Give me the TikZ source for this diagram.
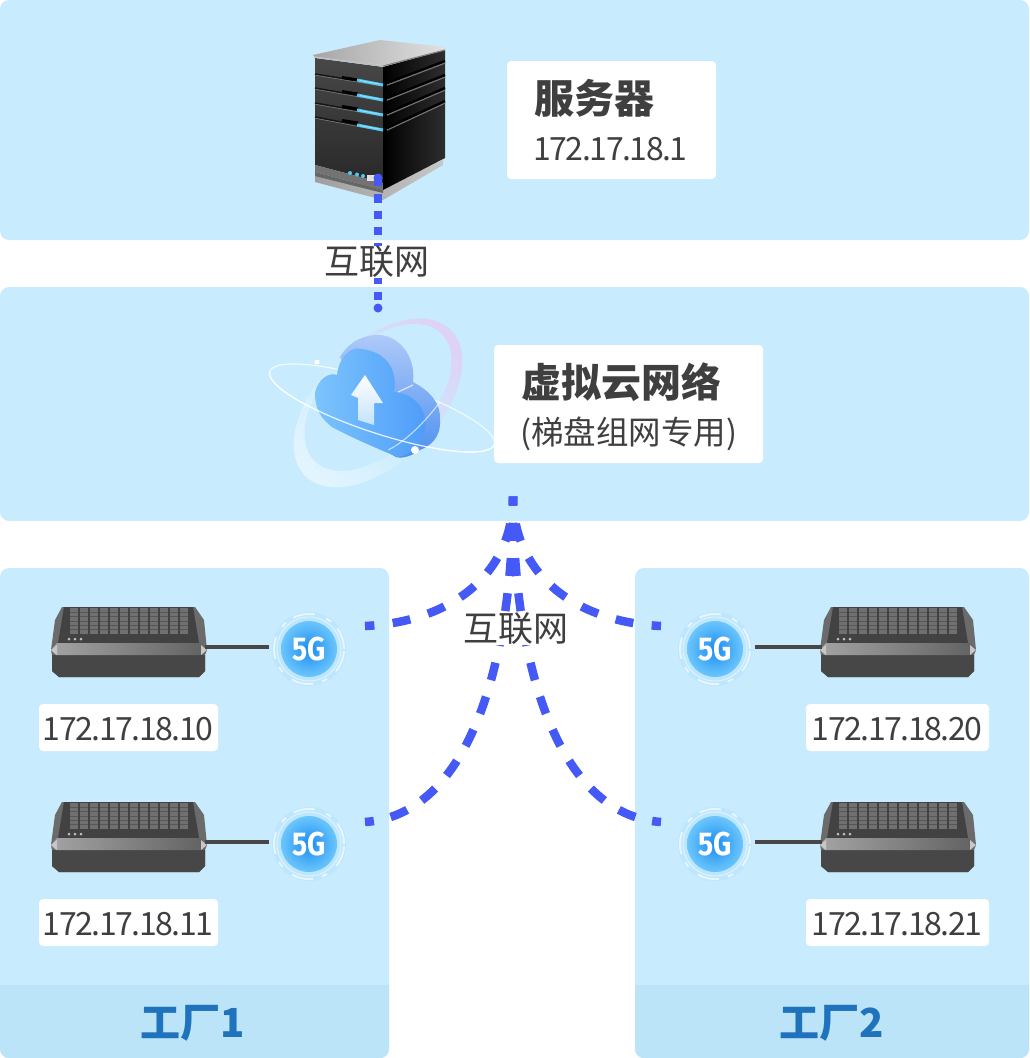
\documentclass[tikz,border=0pt]{standalone}
\usepackage{fontspec}
\setmainfont{Noto Sans CJK SC}
\newfontfamily\numfont[LetterSpace=-4.5]{Noto Sans CJK SC}
\newfontfamily\fgfont{Fira Sans}
\usetikzlibrary{calc}
\definecolor{panel}{HTML}{C8EBFE}
\definecolor{foot}{HTML}{BCE4F8}
\definecolor{dashblue}{HTML}{4459F5}
\definecolor{ink}{HTML}{3F3F3F}
\definecolor{factory}{HTML}{1F72BC}
\definecolor{gcore}{HTML}{1A8CF2}
\definecolor{gedge}{HTML}{6CC6FC}
\definecolor{ghalo}{HTML}{B4E4FE}
\definecolor{cloudback}{HTML}{AEC9F8}
\definecolor{cloudlow}{HTML}{4C90F0}
\definecolor{cloudleft}{HTML}{7CC4FC}
\definecolor{cloudright}{HTML}{4E9CFA}
\definecolor{ringtop}{HTML}{DED2F6}
\definecolor{ringlow}{HTML}{E2F5FF}
\definecolor{led}{HTML}{4FC8F5}
\definecolor{arrowlow}{HTML}{C4E2FC}
\tikzset{
  panelbox/.style={fill=panel,rounded corners=9pt,draw=none},
  whitebox/.style={fill=white,rounded corners=4pt,draw=none},
  head/.style={font=\fontsize{40}{40}\selectfont\bfseries,text=ink,inner sep=0pt},
  sub/.style={font=\fontsize{32.5}{33}\selectfont,text=ink,inner sep=0pt},
  ipnum/.style={font=\numfont\fontsize{32}{32}\selectfont,text=ink,inner sep=0pt},
  netlabel/.style={font=\fontsize{35}{35}\selectfont,text=ink,fill=white,inner xsep=0pt,inner ysep=0pt},
  facname/.style={font=\fontsize{40}{40}\selectfont\bfseries,text=factory,inner sep=0pt},
  linktop/.style={draw=dashblue,line width=8.5pt,dash pattern=on 18pt off 18.5pt,dash phase=9pt},
  linkbottom/.style={draw=dashblue,line width=8.5pt,dash pattern=on 18pt off 17.3pt,dash phase=9pt},
  uplink/.style={draw=dashblue,line width=8.5pt,dash pattern=on 8.2pt off 8.1pt},
  cable/.style={draw=black!72,line width=3.5pt},
  fivegnode/.style={circle,minimum size=56pt,inner sep=0pt,shade,shading=radial,inner color=gcore,outer color=gedge,text=white,font=\fgfont\fontsize{33}{33}\selectfont\bfseries},
  device/.pic={
    \fill[black!58] (11,0)--(144,0)--(153,13)--(156,43)--(154,48)--(154,64)--(148,70)--(8,70)--(1,64)--(1,48)--(0,43)--(4,13)--cycle;
    \fill[black!74] (13,0)--(142,0)--(148,36)--(7,36)--cycle;
    \fill[black!72] (1,48)--(154,48)--(154,64)--(148,70)--(8,70)--(1,64)--cycle;
    \shade[left color=black!36,right color=black!62] (0,43)--(6,36)--(149,36)--(156,43)--(151,48)--(5,48)--cycle;
    \fill[black!22] (0,43)--(6,38)--(6,48)--cycle;
    \fill[black!22] (156,43)--(150,38)--(150,48)--cycle;
    \foreach \i in {0,...,11}{
      \fill[black!56] ({19+\i*10},1) rectangle ++(7.5,25.5);
      \foreach \j in {1,...,5}{
        \draw[black!66,line width=.5pt] ({19+\i*10},{1+\j*4.3}) -- ++(7.5,0);
      }
    }
    \fill[black!25] (18,32) circle (1.5) (24,32) circle (1.5) (30,32) circle (1.5);
  }
}
\newcommand{\fivegicon}[3]{%
  \fill[ghalo,opacity=.55] (#2,#3) circle (37pt);
  \draw[white,opacity=.5,line width=1pt] (#2,#3) circle (32pt);
  \draw[white,opacity=.65,line width=2pt,dash pattern=on 22pt off 9pt on 6pt off 12pt] (#2,#3) circle (35pt);
  \node[fivegnode] (#1) at (#2,#3) {\scalebox{.86}[1]{5G}};%
}
\begin{document}
\begin{tikzpicture}[x=1pt,y=-1pt]
\useasboundingbox (0,0) rectangle (1029,1058);
% panels
\path[panelbox] (0,0) rectangle (1029,240);
\path[panelbox] (0,287) rectangle (1029,521);
\path[panelbox] (0,568) rectangle (389,1058);
\path[panelbox] (635,568) rectangle (1029,1058);
\begin{scope}
  \clip (0,985) rectangle (389,1058);
  \path[fill=foot,rounded corners=9pt] (0,960) rectangle (389,1058);
\end{scope}
\begin{scope}
  \clip (635,985) rectangle (1029,1058);
  \path[fill=foot,rounded corners=9pt] (635,960) rectangle (1029,1058);
\end{scope}
% server
\begin{scope}
  \shade[left color=black!38,right color=black!22] (315,175)--(383,188)--(443,160)--(443,165)--(383,200)--(315,182)--cycle;
  \shade[top color=black!72,bottom color=black!84] (315,58)--(383,67)--(383,183)--(315,165)--cycle;
  \fill[black!55] (315,165)--(383,183)--(383,190)--(315,172)--cycle;
  \fill[black!60] (315,172)--(383,190)--(383,193)--(315,176)--cycle;
  \shade[left color=black,right color=black!82] (383,67)--(445,50)--(445,158)--(383,190)--cycle;
  \shade[left color=black!35,right color=black!12] (313,55)--(380,40)--(445,47)--(445,50)--(383,65)--(315,57)--cycle;
  \draw[black!25,line width=1.6pt] (314,57)--(383,66);
  \draw[black!50,line width=1.2pt] (383,66)--(445,50);
  \foreach \a/\b/\c in {74/85/63,88/100/77,103/115/90,117/130/103}{
    \draw[black!92,line width=1.5pt] (315,\a)--(383,\b);
    \draw[black!55,line width=.7pt] (315,{\a+1.2})--(383,{\b+1.2});
    \draw[black,line width=3pt] (342,{\a+3.5})--(358,{\a+6});
    \draw[black!55,line width=1.4pt] (387,\b)--(445,\c);
    \draw[black,line width=2.4pt] (387,{\b-2})--(445,{\c-2});
    \draw[led,line width=3pt] (357,{\b-5})--(383,\b);
    \draw[white!40!led,line width=1pt] (360,{\b-4.5})--(380,{\b-.8});
  }
  \fill[led] (350,173) circle (2) (357,174.5) circle (2) (363,176) circle (2);
  \fill[black!12] (367,175) rectangle (376,181);
\end{scope}
% cloud: big ring, rear orbit
\begin{scope}[rotate around={45:(378,403)}]
  \shade[even odd rule,top color=ringlow,bottom color=ringtop,middle color=panel,shading angle=135]
    (378,403) ellipse [x radius=103,y radius=60]
    (382,399) ellipse [x radius=90,y radius=52];
\end{scope}
\draw[white,opacity=.8,line width=1.1pt] (382,408) ellipse [x radius=118,y radius=26,rotate=-18];
% cloud body
\shade[top color=cloudback,bottom color=cloudlow]
  (340,357) .. controls (350,340) and (365,335) .. (378,335) .. controls (398,335) and (416,355) .. (413,382)
  .. controls (432,392) and (441,405) .. (440,420) .. controls (441,438) and (430,446) .. (420,450)
  .. controls (412,456) and (402,459) .. (396,457) -- (350,430) -- (345,365) -- cycle;
\shade[left color=cloudleft,right color=cloudright]
  (315,393) .. controls (318,378) and (330,372) .. (337,375) .. controls (338,360) and (350,345) .. (362,349)
  .. controls (385,352) and (398,368) .. (394,392) .. controls (412,393) and (428,408) .. (425,428)
  .. controls (424,441) and (412,455) .. (398,457) .. controls (385,452) and (350,437) .. (332,427)
  .. controls (320,418) and (315,408) .. (315,393) -- cycle;
\shade[top color=white,bottom color=arrowlow]
  (365,375)--(383,403)--(374,403)--(374,425)--(358,420)--(358,398)--(351,395)--cycle;
\draw[white,opacity=.7,line width=1.2pt] (398,392) -- (413,385);
\draw[white,opacity=.65,line width=1.1pt] (440,402) .. controls (425,422) and (405,442) .. (388,450);
\begin{scope}[rotate around={-18:(382,408)}]
  \clip (252,408) rectangle (512,448);
  \draw[white,opacity=.85,line width=1.2pt] (382,408) ellipse [x radius=118,y radius=26];
\end{scope}
\fill[white] (317,362) circle (2.5) (415,450) circle (4);
% name tags
\path[whitebox] (507,61) rectangle (716,179);
\node[head] (srvname) at (594,98) {服务器};
\node[ipnum] (srvip) at (610.5,149) {172.17.18.1};
\path[whitebox] (494,345) rectangle (763,463);
\node[head] (cloudname) at (621,382) {虚拟云网络};
\node[sub] (cloudsub) at (628.5,434) {(梯盘组网专用)};
% devices
\pic at (51,607) {device};
\pic at (51,802) {device};
\pic at (820,607) {device};
\pic at (820,802) {device};
\coordinate (da) at (205,647);
\coordinate (db) at (205,842);
\coordinate (dc) at (822,647);
\coordinate (dd) at (822,842);
\coordinate (ca) at (269,647);
\coordinate (cb) at (269,842);
\coordinate (cc) at (755,647);
\coordinate (cd) at (755,842);
\draw[cable] (da) -- (ca);
\draw[cable] (db) -- (cb);
\draw[cable] (dc) -- (cc);
\draw[cable] (dd) -- (cd);
\fivegicon{ga}{309}{649}
\fivegicon{gb}{309}{844}
\fivegicon{gc}{715}{649}
\fivegicon{gd}{715}{844}
% IP tags
\path[whitebox] (39,704) rectangle (218,751);
\node[ipnum] (ipa) at (128,729) {172.17.18.10};
\path[whitebox] (39,899) rectangle (218,946);
\node[ipnum] (ipb) at (128,924) {172.17.18.11};
\path[whitebox] (806,704) rectangle (989,751);
\node[ipnum] (ipc) at (897,729) {172.17.18.20};
\path[whitebox] (806,899) rectangle (989,946);
\node[ipnum] (ipd) at (897,924) {172.17.18.21};
% connectors
\coordinate (srvport) at (378,178);
\coordinate (cloudtop) at (378,310);
\coordinate (hub) at (513,496.5);
\coordinate (pa) at (365,626);
\coordinate (pb) at (365,822);
\coordinate (pc) at (661,626);
\coordinate (pd) at (661,822);
\draw[uplink] (srvport) -- (cloudtop);
\fill[dashblue] (srvport) circle (4.5pt) (cloudtop) ++(0,-2) circle (4.5pt);
\draw[linktop] (hub) .. controls (513,575) and (450,622) .. (pa);
\draw[linktop] (hub) .. controls (513,575) and (576,622) .. (pc);
\draw[linkbottom] (hub) .. controls (513,660) and (470,815) .. (pb);
\draw[linkbottom] (hub) .. controls (513,660) and (556,815) .. (pd);
\node[netlabel] (neta) at (377,262) {互联网};
\node[netlabel] (netb) at (516,629) {互联网};
% factories
\node[facname] (faca) at (193,1023) {工厂1};
\node[facname] (facb) at (832,1023) {工厂2};
\end{tikzpicture}
\end{document}
